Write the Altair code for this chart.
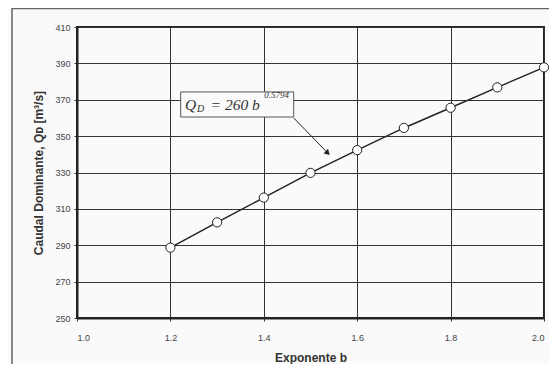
import altair as alt
import pandas as pd

# data
b_vals = [1.2, 1.3, 1.4, 1.5, 1.6, 1.7, 1.8, 1.9, 2.0]
q_vals = [288.7, 302.6, 316.2, 329.8, 342.3, 354.5, 365.6, 376.8, 387.8]

x_ticks = [1.0, 1.2, 1.4, 1.6, 1.8, 2.0]
y_ticks = [250, 270, 290, 310, 330, 350, 370, 390, 410]

# annotation (data coordinates)
ann_text = ["Q", "D", "=  260 b", "0.5794"]
ann_x = [1.231, 1.257, 1.286, 1.401]
ann_y = [364.4, 363.3, 364.4, 370.7]
ann_size = [15.5, 10, 15.5, 9]
box_x = [1.222]; box_x2 = [1.464]; box_y = [360.5]; box_y2 = [374.3]
arrow_x = [1.464, 1.537]; arrow_y = [360.0, 340.7]

df = pd.DataFrame({"b": b_vals, "q": q_vals})
ann = pd.DataFrame({"t": ann_text, "x": ann_x, "y": ann_y, "s": ann_size})
box = pd.DataFrame({"x": box_x, "x2": box_x2, "y": box_y, "y2": box_y2})
arr = pd.DataFrame({"x": arrow_x, "y": arrow_y})
tip = arr.iloc[[1]]

W, H = 467, 291
xs = alt.Scale(domain=[1.0, 2.0], nice=False)
ys = alt.Scale(domain=[250, 410], nice=False)

frame = alt.Chart(pd.DataFrame({"a": [0]})).mark_rect(
    fill="#fafafa", fillOpacity=0, stroke="#666666", strokeWidth=1.5
).encode(x=alt.value(-65), x2=alt.value(W + 40), y=alt.value(-18.5), y2=alt.value(H + 120))

xaxis = alt.Axis(values=x_ticks, format=".1f", title="Exponente b", grid=True,
                 gridColor="#333333", gridWidth=1, gridOpacity=1, labelOverlap=False,
                 domain=True, domainColor="#222222", domainWidth=2,
                 tickSize=3, tickColor="#333333", labelFontSize=9, labelColor="#444444",
                 labelFont="Liberation Sans", labelPadding=12, titleFont="Liberation Sans",
                 titleFontSize=12, titleFontWeight="bold", titleColor="#333333", titlePadding=10)
yaxis = alt.Axis(values=y_ticks, format="d", title="Caudal Dominante, Qᴅ [m³/s]", grid=True,
                 gridColor="#333333", gridWidth=1, gridOpacity=1, labelOverlap=False,
                 domain=True, domainColor="#222222", domainWidth=2,
                 tickSize=3, tickColor="#333333", labelFontSize=9, labelColor="#444444",
                 labelFont="Liberation Sans", labelPadding=4, titleFont="Liberation Sans",
                 titleFontSize=12, titleFontWeight="bold", titleColor="#333333", titlePadding=9)

line = alt.Chart(df).mark_line(color="#222222", strokeWidth=1.5).encode(
    x=alt.X("b:Q", scale=xs, axis=xaxis), y=alt.Y("q:Q", scale=ys, axis=yaxis))
pts = alt.Chart(df).mark_point(filled=True, fill="white", stroke="#222222", strokeWidth=1,
                               size=85, opacity=1).encode(
    x=alt.X("b:Q", scale=xs, axis=xaxis), y=alt.Y("q:Q", scale=ys, axis=yaxis))

boxm = alt.Chart(box).mark_rect(fill="#fafafa", stroke="#555555", strokeWidth=1).encode(
    x=alt.X("x:Q", scale=xs, axis=xaxis), x2="x2", y=alt.Y("y:Q", scale=ys, axis=yaxis), y2="y2")
arrl = alt.Chart(arr).mark_line(color="#222222", strokeWidth=1).encode(
    x=alt.X("x:Q", scale=xs, axis=xaxis), y=alt.Y("y:Q", scale=ys, axis=yaxis))
arrh = alt.Chart(tip).mark_point(shape="triangle-up", filled=True, color="#222222", size=40,
                                 angle=134, opacity=1).encode(
    x=alt.X("x:Q", scale=xs, axis=xaxis), y=alt.Y("y:Q", scale=ys, axis=yaxis))
txt = alt.Chart(ann).mark_text(align="left", baseline="alphabetic", font="Liberation Serif",
                               fontStyle="italic", color="#333333").encode(
    x=alt.X("x:Q", scale=xs, axis=xaxis), y=alt.Y("y:Q", scale=ys, axis=yaxis), text="t:N",
    size=alt.Size("s:Q", scale=None, legend=None))

chart = alt.layer(line, pts, boxm, arrl, arrh, txt, frame).properties(
    width=W, height=H, background="#fafafa",
    padding={"left": 69, "top": 19, "right": 5, "bottom": 46},
    autosize=alt.AutoSizeParams(type="none")
).configure_view(stroke="#222222", strokeWidth=2, fill="#fafafa")

chart.save("out.html", embed_options={"renderer": "svg", "actions": False})
